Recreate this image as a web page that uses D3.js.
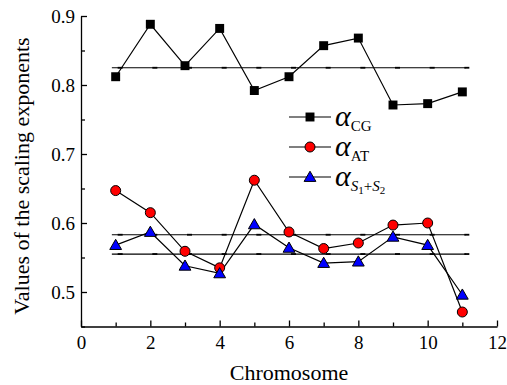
<!DOCTYPE html>
<html>
<head>
<meta charset="utf-8">
<script src="https://cdn.jsdelivr.net/npm/d3@7"></script>
</head>
<body style="margin:0; background:#fff">
<div id="chart"></div>
<script>
// chromosome numbers
var chromosomes = [1, 2, 3, 4, 5, 6, 7, 8, 9, 10, 11];
// scaling exponents
var alphaCG = [0.812, 0.888, 0.828, 0.882, 0.792, 0.812, 0.857, 0.868, 0.771, 0.773, 0.790];
var alphaAT = [0.647, 0.615, 0.559, 0.535, 0.662, 0.587, 0.563, 0.571, 0.597, 0.600, 0.471];
var alphaS  = [0.568, 0.587, 0.538, 0.527, 0.598, 0.564, 0.542, 0.544, 0.580, 0.568, 0.496];
// mean levels (horizontal lines)
var meanLevels = [0.825, 0.583, 0.555];
var meanSpan = [0.89, 11.11];
var xTicks = [0, 2, 4, 6, 8, 10, 12];
var yTicks = [0.5, 0.6, 0.7, 0.8, 0.9];

var FONT = 'Liberation Serif';
var margin = {top: 16, right: 10, bottom: 59, left: 81};

var svg = d3.select('#chart').append('svg')
  .attr('width', 507)
  .attr('height', 385)
  .attr('font-family', FONT);

var g = svg.append('g')
  .attr('transform', 'translate(' + margin.left + ',' + margin.top + ')');

var x = d3.scaleLinear().domain([0, 12]).range([0, 416]);
var y = d3.scaleLinear().domain([0.45, 0.9]).range([310.5, 0]);

function styleAxis(sel) {
  sel.attr('font-family', FONT).attr('font-size', 19);
  sel.selectAll('path, line').attr('stroke', '#000').attr('stroke-width', 1.3);
  sel.selectAll('text').attr('font-family', FONT).attr('font-size', 19).attr('fill', '#000');
}

// minor ticks
g.append('g')
  .attr('transform', 'translate(0,' + y(0.45) + ')')
  .call(d3.axisBottom(x).tickValues(d3.range(1, 12, 2)).tickSize(-4).tickFormat(''))
  .call(styleAxis)
  .select('.domain').remove();
g.append('g')
  .call(d3.axisLeft(y).tickValues([0.45, 0.55, 0.65, 0.75, 0.85]).tickSize(-4).tickFormat(''))
  .call(styleAxis)
  .select('.domain').remove();

g.append('g')
  .attr('transform', 'translate(0,' + y(0.45) + ')')
  .call(d3.axisBottom(x).tickValues(xTicks).tickSizeInner(-6).tickSizeOuter(0).tickPadding(9)
    .tickFormat(d3.format('d')))
  .call(styleAxis);

g.append('g')
  .call(d3.axisLeft(y).tickValues(yTicks).tickSizeInner(-6).tickSizeOuter(0).tickPadding(6)
    .tickFormat(d3.format('.1f')))
  .call(styleAxis);

// mean lines
meanLevels.forEach(function(m) {
  g.append('line')
    .attr('x1', x(meanSpan[0])).attr('x2', x(meanSpan[1]))
    .attr('y1', y(m)).attr('y2', y(m))
    .attr('stroke', '#000').attr('stroke-width', 1.2);
  g.selectAll(null).data(chromosomes).enter().append('line')
    .attr('x1', function(d) { return x(d) + 2; })
    .attr('x2', function(d) { return x(d) + 7; })
    .attr('y1', y(m)).attr('y2', y(m))
    .attr('stroke', '#000').attr('stroke-width', 1.8);
});

var line = d3.line()
  .x(function(d, i) { return x(chromosomes[i]); })
  .y(function(d) { return y(d); });

[alphaCG, alphaAT, alphaS].forEach(function(s) {
  g.append('path').datum(s)
    .attr('d', line)
    .attr('fill', 'none')
    .attr('stroke', '#000')
    .attr('stroke-width', 1.2);
});

var sq = d3.symbol().type(d3.symbolSquare).size(80);
var tri = d3.symbol().type(d3.symbolTriangle).size(60);

g.selectAll('.cg').data(alphaCG).enter().append('path')
  .attr('class', 'cg')
  .attr('d', sq)
  .attr('transform', function(d, i) { return 'translate(' + x(chromosomes[i]) + ',' + y(d) + ')'; })
  .attr('fill', '#000');

g.selectAll('.at').data(alphaAT).enter().append('circle')
  .attr('class', 'at')
  .attr('cx', function(d, i) { return x(chromosomes[i]); })
  .attr('cy', function(d) { return y(d); })
  .attr('r', 5)
  .attr('fill', '#f00')
  .attr('stroke', '#000')
  .attr('stroke-width', 1);

g.selectAll('.s').data(alphaS).enter().append('path')
  .attr('class', 's')
  .attr('d', tri)
  .attr('transform', function(d, i) { return 'translate(' + x(chromosomes[i]) + ',' + (y(d) + 1) + ')'; })
  .attr('fill', '#00f')
  .attr('stroke', '#000')
  .attr('stroke-width', 1);

// axis titles
svg.append('text')
  .attr('x', margin.left + 208)
  .attr('y', 380)
  .attr('text-anchor', 'middle')
  .attr('font-family', FONT)
  .attr('font-size', 22)
  .text('Chromosome');

svg.append('text')
  .attr('transform', 'translate(29,' + 176 + ') rotate(-90)')
  .attr('text-anchor', 'middle')
  .attr('font-family', FONT)
  .attr('font-size', 22)
  .text('Values of the scaling exponents');

// legend
var legend = svg.append('g').attr('transform', 'translate(289,117)');
var items = [
  {marker: 'square', sub: [{t: 'CG', dy: 5}]},
  {marker: 'circle', sub: [{t: 'AT', dy: 5}]},
  {marker: 'triangle', sub: [
    {t: 'S', dy: 5, it: true}, {t: '1', dy: 3, small: true}, {t: '+', dy: -3},
    {t: 'S', dy: 0, it: true}, {t: '2', dy: 3, small: true}]}
];
items.forEach(function(it, i) {
  var row = legend.append('g').attr('transform', 'translate(0,' + (i * 30) + ')');
  row.append('line').attr('x1', 0).attr('x2', 42).attr('y1', 0).attr('y2', 0)
    .attr('stroke', '#000').attr('stroke-width', 1.2);
  if (it.marker === 'square') {
    row.append('path').attr('d', sq).attr('transform', 'translate(21,0)').attr('fill', '#000');
  } else if (it.marker === 'circle') {
    row.append('circle').attr('cx', 21).attr('cy', 0).attr('r', 5)
      .attr('fill', '#f00').attr('stroke', '#000');
  } else {
    row.append('path').attr('d', tri).attr('transform', 'translate(21,1)')
      .attr('fill', '#00f').attr('stroke', '#000');
  }
  var t = row.append('text').attr('x', 46).attr('y', 9).attr('font-family', FONT);
  t.append('tspan').attr('font-size', 30).attr('font-style', 'italic').text('\u03b1');
  it.sub.forEach(function(s) {
    t.append('tspan')
      .attr('font-size', s.small ? 11 : 15)
      .attr('font-style', s.it ? 'italic' : 'normal')
      .attr('dy', s.dy)
      .text(s.t);
  });
});
</script>
</body>
</html>
